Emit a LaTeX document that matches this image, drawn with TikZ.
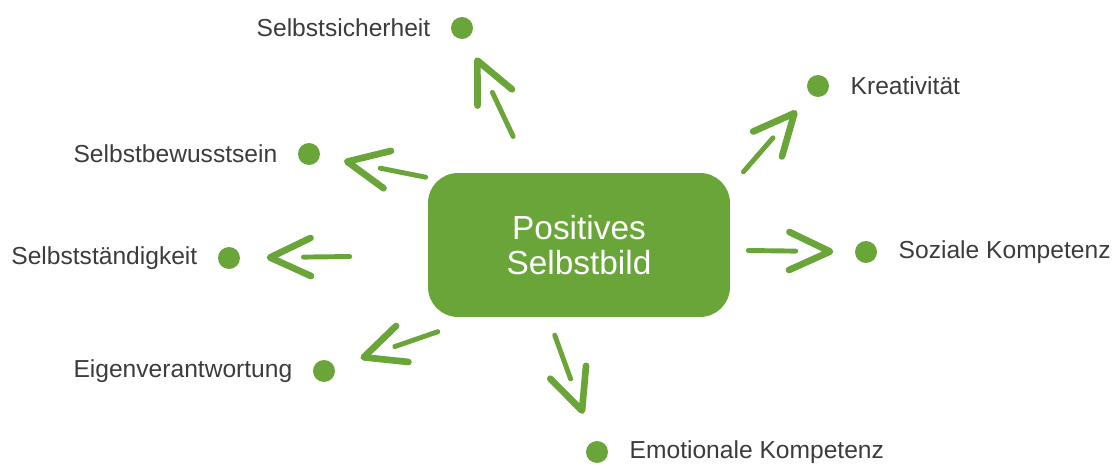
\documentclass[tikz,border=0pt]{standalone}
\usepackage{fontspec}
\setmainfont{Liberation Sans}
\usetikzlibrary{positioning, calc}
\definecolor{leafgreen}{RGB}{106,165,57}
\definecolor{inkgray}{RGB}{60,60,60}

\begin{document}
\begin{tikzpicture}[x=0.02cm, y=-0.02cm,
  hub/.style={fill=leafgreen, rounded corners=0.6cm, minimum width=6.04cm, minimum height=2.88cm, align=center, text=white, font=\fontsize{19}{19.5}\selectfont},
  dot/.style={circle, fill=leafgreen, minimum size=0.44cm, inner sep=0pt},
  lbl/.style={inner sep=0pt, text=inkgray, font=\fontsize{14}{16}\selectfont},
  shaft/.style={leafgreen, line width=2.8pt, line cap=round},
  barb/.style={leafgreen, line width=3.8pt, line cap=round, line join=round}]
  \useasboundingbox (0,0) rectangle (1117,469);
  \node[hub] (bild) at (579,245) {Positives\\Selbstbild};
  % dots round the box
  \node[dot] (sicher) at (462,28) {};
  \node[dot] (kreativ) at (818,86) {};
  \node[dot] (bewusst) at (309,154) {};
  \node[dot] (staendig) at (229,258) {};
  \node[dot] (verant) at (324,371) {};
  \node[dot] (sozial) at (866,252) {};
  \node[dot] (emotional) at (597,452) {};
  % labels
  \node[lbl, left=0.4cm of sicher] (sicher-t) {Selbstsicherheit};
  \node[lbl, right=0.42cm of kreativ] (kreativ-t) {Kreativität};
  \node[lbl, left=0.4cm of bewusst] (bewusst-t) {Selbstbewusstsein};
  \node[lbl, left=0.4cm of staendig] (staendig-t) {Selbstständigkeit};
  \node[lbl, left=0.4cm of verant] (verant-t) {Eigenverantwortung};
  \node[lbl, right=0.42cm of sozial] (sozial-t) {Soziale Kompetenz};
  \node[lbl, right=0.42cm of emotional] (emotional-t) {Emotionale Kompetenz};
  % brush arrows: box anchor / dot / gap at box / gap at dot
  \foreach \a/\d/\s/\e in {124/sicher/0.8cm/0.72cm, 21/kreativ/0.4cm/0.72cm,
      156/bewusst/0.04cm/0.78cm, 184/staendig/1.56cm/0.82cm, 216/verant/0.88cm/0.84cm,
      358/sozial/0.36cm/0.72cm, 247/emotional/0.38cm/0.88cm} {
    \coordinate (tl) at ($(bild.\a)!\s!(\d)$);
    \coordinate (tp) at ($(\d)!\e!(bild.\a)$);
    \draw[shaft] (tl) -- ($(tp)!0.42!(tl)$);
    \draw[barb] ($(tp)!0.9cm!25:(tl)$) -- (tp) -- ($(tp)!0.9cm!-25:(tl)$);
  }
\end{tikzpicture}
\end{document}
